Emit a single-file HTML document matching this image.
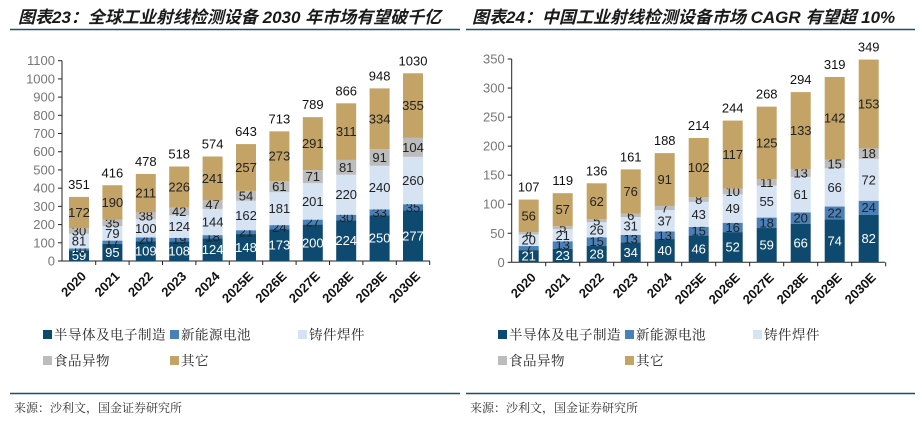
<!DOCTYPE html>
<html><head><meta charset="utf-8">
<style>
body{margin:0;background:#fff;width:922px;height:424px;overflow:hidden;font-family:"Liberation Sans","Noto Sans CJK SC",sans-serif;}
svg{position:absolute;left:0;top:0}
</style></head>
<body>
<svg id="c" width="922" height="424" xmlns="http://www.w3.org/2000/svg">
<text x="18" y="23" font-size="17" font-weight="bold" font-style="italic" fill="#1a1a1a" font-family="'Liberation Sans','Noto Sans CJK SC',sans-serif">图表23：全球工业射线检测设备 2030 年市场有望破千亿</text>
<text x="472" y="23" font-size="17" font-weight="bold" font-style="italic" fill="#1a1a1a" font-family="'Liberation Sans','Noto Sans CJK SC',sans-serif">图表24：中国工业射线检测设备市场 CAGR 有望超 10%</text>
<line x1="10" y1="29.5" x2="460" y2="29.5" stroke="#1f4e6b" stroke-width="1.5"/>
<line x1="466" y1="29.5" x2="915" y2="29.5" stroke="#1f4e6b" stroke-width="1.5"/>
<line x1="10" y1="393.5" x2="460" y2="393.5" stroke="#1f4e6b" stroke-width="1.5"/>
<line x1="466" y1="393.5" x2="915" y2="393.5" stroke="#1f4e6b" stroke-width="1.5"/>
<text x="14" y="412" font-size="12" fill="#333" font-family="'Liberation Serif','Noto Serif CJK SC',serif">来源：沙利文，国金证券研究所</text>
<text x="470" y="412" font-size="12" fill="#333" font-family="'Liberation Serif','Noto Serif CJK SC',serif">来源：沙利文，国金证券研究所</text>
</svg>
<script>
const categories=["2020","2021","2022","2023","2024","2025E","2026E","2027E","2028E","2029E","2030E"];
const seriesNames=["半导体及电子制造","新能源电池","铸件焊件","食品异物","其它"];
const globalSemi=[59,95,109,108,124,148,173,200,224,250,277];
const globalBattery=[10,17,20,19,18,21,24,27,30,33,35];
const globalCasting=[81,79,100,124,144,162,181,201,220,240,260];
const globalFood=[30,35,38,42,47,54,61,71,81,91,104];
const globalOther=[172,190,211,226,241,257,273,291,311,334,355];
const globalTotals=[351,416,478,518,574,643,713,789,866,948,1030];
const globalTicks=[0,100,200,300,400,500,600,700,800,900,1000,1100];
const chinaSemi=[21,23,28,34,40,46,52,59,66,74,82];
const chinaBattery=[7,13,15,13,13,15,16,18,20,22,24];
const chinaCasting=[20,21,26,31,37,43,49,55,61,66,72];
const chinaFood=[4,5,5,6,7,8,10,11,13,15,18];
const chinaOther=[56,57,62,76,91,102,117,125,133,142,153];
const chinaTotals=[107,119,136,161,188,214,244,268,294,319,349];
const chinaTicks=[0,50,100,150,200,250,300,350];

const colors=["#0e4a6f","#4a80b8","#d5e3f2","#bcbcbc","#c4a466"];
const labelColors=["#fff","#222","#222","#222","#222"];
const NS="http://www.w3.org/2000/svg";
const svg=document.getElementById('c');
function mk(tag,attrs,parent){const e=document.createElementNS(NS,tag);for(const k in attrs)e.setAttribute(k,attrs[k]);(parent||svg).appendChild(e);return e;}

function drawChart(prefix,series,totals,ticks,g){
  const y=v=>g.y0-(v-ticks[0])/(ticks[ticks.length-1]-ticks[0])*(g.y0-g.yTop);
  const x=i=>g.x0+i*g.step;
  const grp=mk('g',{});
  
  
  const ax=mk('line',{x1:g.axisX,y1:y(ticks[ticks.length-1]),x2:g.axisX,y2:g.y0,stroke:'#222','stroke-width':1},grp);
  
  
  ticks.forEach(t=>{
    mk('line',{x1:g.axisX-4,y1:y(t),x2:g.axisX,y2:y(t),stroke:'#222'},grp);
    const tl=mk('text',{x:g.axisX-7,y:y(t)+4.5,'text-anchor':'end','font-size':13,fill:'#777'},grp);
    tl.textContent=t;
    
    
  });
  const xa=mk('line',{x1:g.axisX,y1:g.y0,x2:g.axisEnd,y2:g.y0,stroke:'#222'},grp);
  
  
  categories.forEach((c,i)=>{
    const tx=x(i)+g.step/2;
    mk('line',{x1:tx,y1:g.y0,x2:tx,y2:g.y0+4,stroke:'#222'},grp);
    let acc=0;
    series.forEach((s,k)=>{
      const v=s[i];
      const r=mk('rect',{x:x(i)-g.bw/2,y:y(acc+v),width:g.bw,height:y(acc)-y(acc+v),fill:colors[k]},grp);
      
      
      const vl=mk('text',{x:x(i),y:(y(acc)+y(acc+v))/2+4.5,'text-anchor':'middle','font-size':13,fill:labelColors[k]},grp);
      vl.textContent=v;
      
      
      acc+=v;
    });
    const tot=mk('text',{x:x(i),y:y(acc)-8,'text-anchor':'middle','font-size':13,fill:'#111'},grp);
    tot.textContent=totals[i];
    
    
    const cl=mk('text',{x:x(i)+8,y:g.y0+16,'text-anchor':'end','font-size':13,'font-weight':'bold',fill:'#111',transform:'rotate(-45 '+(x(i)+8)+' '+(g.y0+16)+')'},grp);
    cl.textContent=c;
    
    
  });
  const lp=[[g.legX,335],[g.legX+127,335],[g.legX+255,335],[g.legX,361],[g.legX+127,361]];
  seriesNames.forEach((n,k)=>{
    const lg=mk('g',{},grp);
    
    
    mk('rect',{x:lp[k][0],y:lp[k][1]-5,width:9,height:9,fill:colors[k]},lg);
    const t=mk('text',{x:lp[k][0]+11,y:lp[k][1]+4.5,'font-size':13.5,fill:'#222','letter-spacing':'0.5','font-family':"'Liberation Serif','Noto Serif CJK SC',serif"},lg);
    t.textContent=n;
  });
}
drawChart('global',[globalSemi,globalBattery,globalCasting,globalFood,globalOther],globalTotals,globalTicks,
  {x0:79,step:33.4,bw:20,y0:261,yTop:60.7,axisX:62,axisEnd:430,legX:43});
drawChart('china',[chinaSemi,chinaBattery,chinaCasting,chinaFood,chinaOther],chinaTotals,chinaTicks,
  {x0:528.7,step:34,bw:20,y0:262.3,yTop:59,axisX:511.7,axisEnd:885,legX:498});
</script>
</body></html>
